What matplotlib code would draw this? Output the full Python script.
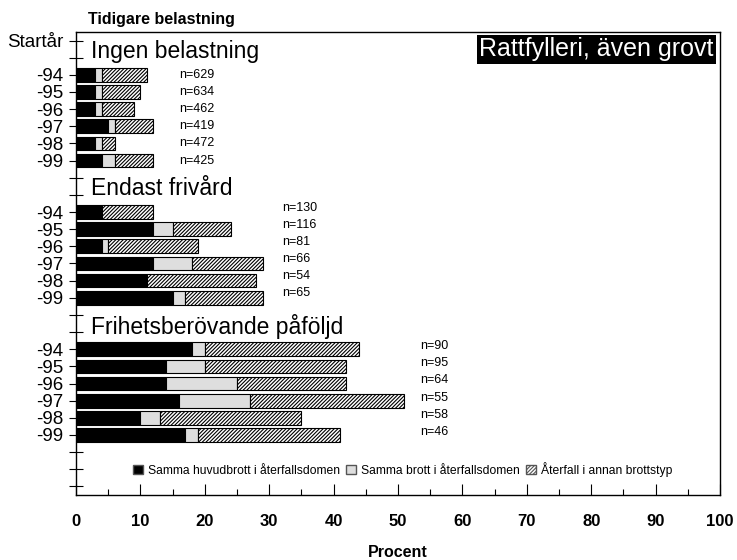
import matplotlib
matplotlib.use("Agg")
import matplotlib.pyplot as plt
from matplotlib.patches import Patch

plt.rcParams['font.family'] = ['Liberation Sans', 'DejaVu Sans']
plt.rcParams['hatch.linewidth'] = 0.8

years = ['-94', '-95', '-96', '-97', '-98', '-99']
groups = ['Ingen belastning', 'Endast frivård', 'Frihetsberövande påföljd']

# percent per start year: same main offence / same offence / other offence
ingen_huvud = [3, 3, 3, 5, 3, 4]
ingen_samma = [1, 1, 1, 1, 1, 2]
ingen_annan = [7, 6, 5, 6, 2, 6]
ingen_n = [629, 634, 462, 419, 472, 425]

frivard_huvud = [4, 12, 4, 12, 11, 15]
frivard_samma = [0, 3, 1, 6, 0, 2]
frivard_annan = [8, 9, 14, 11, 17, 12]
frivard_n = [130, 116, 81, 66, 54, 65]

frihet_huvud = [18, 14, 14, 16, 10, 17]
frihet_samma = [2, 6, 11, 11, 3, 2]
frihet_annan = [24, 22, 17, 24, 22, 22]
frihet_n = [90, 95, 64, 55, 58, 46]

legend_labels = ['Samma huvudbrott i återfallsdomen', 'Samma brott i återfallsdomen',
                 'Återfall i annan brottstyp']

ytick_labels = (['Startår', ''] + years + ['', ''] + years + ['', ''] + years + ['', '', ''])

group_data = [
    (ingen_huvud, ingen_samma, ingen_annan, ingen_n, 2, 16, 0.0, 0.65),
    (frivard_huvud, frivard_samma, frivard_annan, frivard_n, 10, 32, 0.25, 8.6),
    (frihet_huvud, frihet_samma, frihet_annan, frihet_n, 18, 53.5, 0.18, 16.65),
]

black = '#000000'
gray = '#dedede'
hatch = '/////////'

fig = plt.figure(figsize=(7.37, 5.60), dpi=100)
ax = fig.add_axes([0.1031, 0.1161, 0.8739, 0.8268])

for (huvud, samma, annan, ns, start, nx, noff, hy), title in zip(group_data, groups):
    ypos = [start + i for i in range(len(years))]
    left2 = [a + b for a, b in zip(huvud, samma)]
    ax.barh(ypos, huvud, height=0.8, color=black, edgecolor='black', linewidth=0.8)
    ax.barh(ypos, samma, left=huvud, height=0.8, color=gray, edgecolor='black', linewidth=0.8)
    ax.barh(ypos, annan, left=left2, height=0.8, color='white', edgecolor='black',
            linewidth=0.8, hatch=hatch)
    for y, n in zip(ypos, ns):
        ax.text(nx, y - noff, f'n={n}', fontsize=9, va='center', ha='left')
    ax.text(2.3, hy, title, fontsize=16.5, va='center', ha='left')

ax.text(99.0, 0.5, 'Rattfylleri, även grovt', fontsize=18, color='white', ha='right',
        va='center', bbox=dict(facecolor='black', edgecolor='none', pad=1.8))

ax.set_xlim(0, 100)
ax.set_ylim(26.5, -0.5)
ax.set_yticks(range(len(ytick_labels)))
ax.set_yticklabels(ytick_labels, fontsize=13.5)
ax.tick_params(axis='y', direction='inout', length=10, width=0.8, pad=4)

ax.set_xticks(range(0, 101, 10))
ax.set_xticks(range(5, 100, 10), minor=True)
ax.tick_params(axis='x', which='major', direction='in', length=8, width=0.8, pad=14,
               labelsize=12)
ax.tick_params(axis='x', which='minor', direction='in', length=4, width=0.8)
for lab in ax.get_xticklabels():
    lab.set_fontweight('bold')
ax.set_xlabel('Procent', fontsize=11.5, fontweight='bold', labelpad=11)

for sp in ax.spines.values():
    sp.set_linewidth(1.0)

handles = [Patch(facecolor=black, edgecolor='#555555'),
           Patch(facecolor=gray, edgecolor='#555555'),
           Patch(facecolor='white', edgecolor='#555555', hatch=hatch)]
ax.legend(handles, legend_labels, loc='center', bbox_to_anchor=(50.7, 25),
          bbox_transform=ax.transData, ncol=3, frameon=False, fontsize=8.7,
          handlelength=0.85, handleheight=0.85, handletextpad=0.4, columnspacing=0.5,
          borderpad=0)

fig.text(0.119, 0.966, 'Tidigare belastning', fontsize=11.5, fontweight='bold', va='center')

fig.savefig('out.png', dpi=100)
